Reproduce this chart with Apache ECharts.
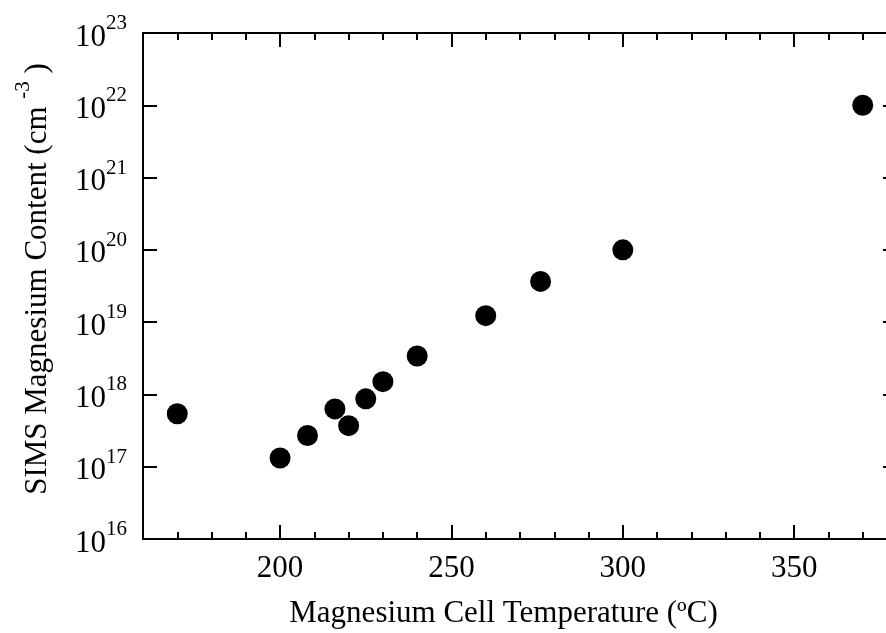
<!DOCTYPE html>
<html>
<head>
<meta charset="utf-8">
<script src="https://cdn.jsdelivr.net/npm/echarts@6/dist/echarts.min.js"></script>
<style>
html,body{margin:0;padding:0;background:#fff;}
#chart{width:886px;height:633px;}
</style>
</head>
<body>
<div id="chart"></div>
<script>
// Data
var temperatures = [170, 200, 208, 216, 220, 225, 230, 240, 260, 276, 300, 370];
var mgContent = [5.4e17, 1.32e17, 2.7e17, 6.3e17, 3.7e17, 8.7e17, 1.5e18, 3.4e18, 1.23e19, 3.66e19, 1.0e20, 1.0e22];
var xMajorTicks = [200, 250, 300, 350];
var yDecades = [1e16, 1e17, 1e18, 1e19, 1e20, 1e21, 1e22, 1e23];
var xTitle = 'Magnesium Cell Temperature (\u00baC)';
var yTitle = '{t0|SIMS Magnesium Content (cm }{sup|-3}{t| )}';

var FONT = "'Liberation Serif', 'Times New Roman', serif";
var points = temperatures.map(function (t, i) { return [t, mgContent[i]]; });
// keep the end decades a hair inside the log extent so float rounding does not drop them
var yDecadesSafe = yDecades.map(function (v, i) {
  if (i === 0) return v * (1 + 1e-9);
  if (i === yDecades.length - 1) return v * (1 - 1e-9);
  return v;
});

var lineStyle = { color: '#000', width: 2 };
function xAxisDef(pos, major, withLabels) {
  var ax = {
    type: 'value', position: pos, min: 160, max: 380,
    gridIndex: 0,
    axisLine: { show: major, lineStyle: lineStyle },
    splitLine: { show: false },
    axisLabel: { show: false }
  };
  if (major) {
    ax.axisTick = { show: true, inside: true, length: 14, lineStyle: lineStyle, customValues: xMajorTicks };
  } else {
    ax.interval = 10;
    ax.axisTick = { show: true, inside: true, length: 7, lineStyle: lineStyle };
  }
  if (withLabels) {
    ax.axisLabel = {
      show: true, customValues: xMajorTicks, margin: 14,
      fontFamily: FONT, fontSize: 31, color: '#000'
    };
    ax.name = xTitle;
    ax.nameLocation = 'middle';
    ax.nameGap = 59;
    ax.nameTextStyle = { fontFamily: FONT, fontSize: 31, color: '#000', padding: [0, 33, 0, 0] };
  }
  return ax;
}

var chart = echarts.init(document.getElementById('chart'), null, { renderer: 'canvas' });
chart.setOption({
  backgroundColor: '#fff',
  animation: false,
  grid: { left: 143, top: 33, width: 754, height: 506, containLabel: false, outerBoundsMode: 'none' },
  xAxis: [
    xAxisDef('bottom', true, true),
    xAxisDef('bottom', false, false),
    xAxisDef('top', true, false),
    xAxisDef('top', false, false)
  ],
  yAxis: [
    {
      type: 'log', logBase: 10, min: 1e16, max: 1e23, position: 'left',
      axisLine: { show: true, lineStyle: lineStyle },
      axisTick: { show: true, inside: true, length: 14, lineStyle: lineStyle, customValues: yDecadesSafe },
      splitLine: { show: false },
      axisLabel: {
        show: true, customValues: yDecadesSafe, margin: 16,
        formatter: function (v) {
          var e = Math.round(Math.log10(v));
          return '{b|10}{s|' + e + '}';
        },
        rich: {
          b: { fontFamily: FONT, fontSize: 31, color: '#000', padding: [9, 0, 0, 0], verticalAlign: 'bottom' },
          s: { fontFamily: FONT, fontSize: 21, color: '#000', verticalAlign: 'top' }
        }
      },
      name: yTitle,
      nameLocation: 'middle',
      nameRotate: 90,
      nameGap: 90,
      nameTextStyle: {
        fontFamily: FONT, fontSize: 31, color: '#000',
        rich: {
          t0: { fontFamily: FONT, fontSize: 31, color: '#000', padding: [9, 0, 0, 14], verticalAlign: 'bottom' },
          t: { fontFamily: FONT, fontSize: 31, color: '#000', padding: [9, 0, 0, 0], verticalAlign: 'bottom' },
          sup: { fontFamily: FONT, fontSize: 21, color: '#000', verticalAlign: 'top' }
        }
      }
    },
    {
      type: 'log', logBase: 10, min: 1e16, max: 1e23, position: 'right',
      axisLine: { show: true, lineStyle: lineStyle },
      axisTick: { show: true, inside: true, length: 14, lineStyle: lineStyle, customValues: yDecadesSafe },
      splitLine: { show: false },
      axisLabel: { show: false }
    }
  ],
  series: [{
    type: 'scatter',
    xAxisIndex: 0, yAxisIndex: 0,
    data: points,
    symbol: 'circle',
    symbolSize: 21,
    clip: false,
    itemStyle: { color: '#000', opacity: 1 }
  }]
});
</script>
</body>
</html>
